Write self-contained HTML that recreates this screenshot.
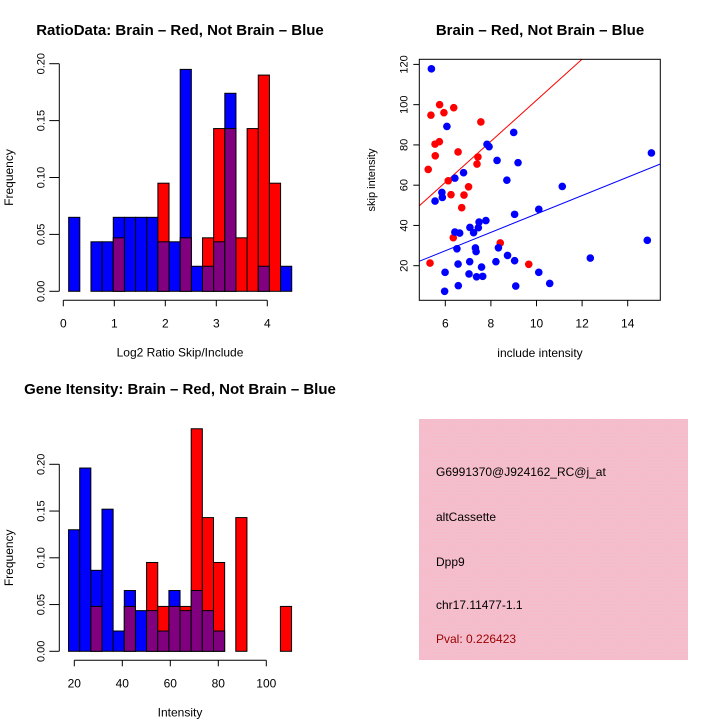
<!DOCTYPE html>
<html><head><meta charset="utf-8"><style>
html,body{margin:0;padding:0;background:#fff}
svg{display:block;font-family:"Liberation Sans",sans-serif}
</style></head><body>
<svg id="fig" width="720" height="720" viewBox="0 0 720 720" xmlns="http://www.w3.org/2000/svg">
<defs>
<pattern id="hatch" width="3" height="3" patternUnits="userSpaceOnUse">
<rect width="3" height="3" fill="#f6bccb"/><rect width="1" height="1" fill="#e8c8d0"/>
</pattern>
</defs>
<g id="p1"></g>
<g id="p2"></g>
<g id="p3"></g>
<g>
<rect x="419" y="419" width="269" height="241" fill="url(#hatch)"/>
<g font-size="12" fill="#000">
<text x="436" y="476">G6991370@J924162_RC@j_at</text>
<text x="436" y="521">altCassette</text>
<text x="436" y="566">Dpp9</text>
<text x="436" y="609">chr17.11477-1.1</text>
<text x="436" y="643" fill="#9b0000">Pval: 0.226423</text>
</g>
</g>
</svg>
<script>
// Ratio histogram data
const ratioBinStart = 0.105;
const ratioBinWidth = 0.2187;
const ratioBlue = [0.065,0,0.0435,0.0435,0.065,0.065,0.065,0.065,0.0435,0.0435,0.195,0.022,0.022,0.0435,0.174,0,0,0.022,0,0.022];
const ratioRed  = [0,0,0,0,0.047,0,0,0,0.095,0,0.047,0,0.047,0.143,0.143,0.047,0.143,0.19,0.095,0];
const ratioXTicks = [0,1,2,3,4];
const freqTicks = ["0.00","0.05","0.10","0.15","0.20"];
// Intensity histogram data
const intBinStart = 17.6;
const intBinWidth = 4.646;
const intBlue = [0.130,0.196,0.0866,0.152,0.0217,0.065,0.0435,0.0435,0.0217,0.065,0.0435,0.065,0.0435,0.0217,0,0,0,0,0,0];
const intRed  = [0,0,0.048,0,0,0.048,0,0.095,0.048,0.048,0.048,0.238,0.143,0.095,0,0.143,0,0,0,0.048];
const intXTicks = [20,40,60,80,100];
// Scatter data
const redX = [5.25,5.37,5.75,5.94,6.37,7.56,5.55,5.74,5.56,6.56,7.43,7.39,6.13,6.25,6.82,7.02,6.72,6.35,8.41,5.33,9.66];
const redY = [67.8,94.8,100,96,98.5,91.4,80.4,81.6,74.6,76.5,74,70.5,62.2,55.3,55.1,59.2,48.8,33.9,31.3,21.3,20.7];
const blueX = [5.39,6.07,7.83,7.92,9.0,8.27,9.19,6.8,6.42,8.7,11.13,15.04,5.85,5.87,5.55,9.04,10.1,14.86,12.36,7.78,7.48,7.45,7.08,7.24,6.42,6.63,6.51,8.33,7.32,7.35,8.73,7.07,8.22,9.04,6.56,5.99,10.1,7.59,7.04,7.37,7.64,10.58,5.97,6.57,9.09];
const blueY = [117.8,89.2,80.3,79.1,86.2,72.3,71.2,66.2,63.5,62.5,59.4,76,56.4,53.9,52.1,45.5,48,32.6,23.8,42.4,41.7,38.9,39,36.4,36.7,36.2,28.4,28.9,28.8,27,25.1,22,22,22.5,20.8,16.7,16.7,19.3,15.9,14.5,14.7,11.2,7.3,10.1,9.9];
const redFit = [0.2,10.2];
const blueFit = [0.0,4.57];
const scatXTicks = [6,8,10,12,14];
const scatYTicks = [20,40,60,80,100,120];

const NS="http://www.w3.org/2000/svg";
function mk(parent,tag,attrs,text){const e=document.createElementNS(NS,tag);for(const k in attrs)e.setAttribute(k,attrs[k]);if(text!==undefined)e.textContent=text;parent.appendChild(e);return e;}

function hist(g,o){
  const sx=v=>o.x0+(v-o.xv0)*o.xs, sy=v=>o.y0-v*o.ys;
  for(let i=0;i<o.blue.length;i++){
    const a=o.start+i*o.width,b=a+o.width;
    const bl=o.blue[i],rd=o.red[i];
    const mx=Math.max(bl,rd),mn=Math.min(bl,rd);
    if(mx>0){
      const r=mk(g,'rect',{x:sx(a),y:sy(mx),width:sx(b)-sx(a),height:sy(0)-sy(mx),fill:bl>=rd?'#0000ff':'#ff0000',stroke:'#000','stroke-width':1});
      
      
    }
    if(mn>0){
      const r=mk(g,'rect',{x:sx(a),y:sy(mn),width:sx(b)-sx(a),height:sy(0)-sy(mn),fill:'#800080',stroke:'#000','stroke-width':1});
      
      
    }
  }
  const ya=mk(g,'g',{});
  
  
  mk(ya,'line',{x1:o.yAxisX,x2:o.yAxisX,y1:sy(0),y2:sy(0.2),stroke:'#000'});
  freqTicks.forEach(t=>{const y=sy(parseFloat(t));mk(ya,'line',{x1:o.yAxisX-10,x2:o.yAxisX,y1:y,y2:y,stroke:'#000'});
    const tx=mk(ya,'text',{x:0,y:0,transform:`translate(${o.yAxisX-15},${y}) rotate(-90)`,'text-anchor':'middle','font-size':11},t);
    
    });
  const xa=mk(g,'g',{});
  
  
  mk(xa,'line',{x1:sx(o.xt[0]),x2:sx(o.xt[o.xt.length-1]),y1:o.xAxisY,y2:o.xAxisY,stroke:'#000'});
  o.xt.forEach(t=>{const x=sx(t);mk(xa,'line',{x1:x,x2:x,y1:o.xAxisY,y2:o.xAxisY+6,stroke:'#000'});
    const tx=mk(xa,'text',{x:x,y:o.xAxisY+27,'text-anchor':'middle','font-size':12},String(t));
    
    });
  const t=mk(g,'text',{x:o.titleX,y:o.titleY,'text-anchor':'middle','font-size':15,'font-weight':'bold'},o.title);
  
  
  const xl=mk(g,'text',{x:180,y:o.xAxisY+56,'text-anchor':'middle','font-size':12},o.xlab);
  
  
  const yl=mk(g,'text',{x:0,y:0,transform:`translate(13,${(sy(0)+sy(0.2))/2}) rotate(-90)`,'text-anchor':'middle','font-size':12},'Frequency');
  
  
}

hist(document.getElementById('p1'),{blue:ratioBlue,red:ratioRed,start:ratioBinStart,width:ratioBinWidth,
  x0:63.3,xv0:0,xs:51,y0:291.3,ys:1138,yAxisX:59.3,xAxisY:300.3,xt:ratioXTicks,
  title:'RatioData: Brain – Red, Not Brain – Blue',titleX:180,titleY:35,xlab:'Log2 Ratio Skip/Include'});
hist(document.getElementById('p3'),{blue:intBlue,red:intRed,start:intBinStart,width:intBinWidth,
  x0:74.3,xv0:20,xs:2.4,y0:651.3,ys:935,yAxisX:59.3,xAxisY:660.3,xt:intXTicks,
  title:'Gene Itensity: Brain – Red, Not Brain – Blue',titleX:180,titleY:394,xlab:'Intensity'});

(function(){
  const g=document.getElementById('p2');
  const L=419.3,R=660.3,T=59.3,B=300.3;
  const sx=v=>445.3+(v-6)*22.8, sy=v=>265.7-(v-20)*2.013;
  const cp=mk(document.querySelector('defs'),'clipPath',{id:'sc'});
  mk(cp,'rect',{x:L,y:T,width:R-L,height:B-T});
  const fits=[[redFit,'#ff0000','red-fit-line'],[blueFit,'#0000ff','blue-fit-line']];
  fits.forEach(([f,c,n])=>{const x1=4,x2=16;
    const l=mk(g,'line',{x1:sx(x1),y1:sy(f[0]+f[1]*x1),x2:sx(x2),y2:sy(f[0]+f[1]*x2),stroke:c,'stroke-width':1,'clip-path':'url(#sc)'});
    
    });
  redX.forEach((x,i)=>{const c=mk(g,'circle',{cx:sx(x),cy:sy(redY[i]),r:3.8,fill:'#ff0000'});
    
    });
  blueX.forEach((x,i)=>{const c=mk(g,'circle',{cx:sx(x),cy:sy(blueY[i]),r:3.8,fill:'#0000ff'});
    
    });
  const box=mk(g,'rect',{x:L,y:T,width:R-L,height:B-T,fill:'none',stroke:'#000','stroke-width':1});
  
  
  scatXTicks.forEach(t=>{const x=sx(t);mk(g,'line',{x1:x,x2:x,y1:B,y2:B+6,stroke:'#000'});
    const tx=mk(g,'text',{x:x,y:B+27,'text-anchor':'middle','font-size':12},String(t));
    
    });
  scatYTicks.forEach(t=>{const y=sy(t);mk(g,'line',{x1:L-6,x2:L,y1:y,y2:y,stroke:'#000'});
    const tx=mk(g,'text',{x:0,y:0,transform:`translate(${L-12},${y}) rotate(-90)`,'text-anchor':'middle','font-size':11},String(t));
    
    });
  const t=mk(g,'text',{x:540,y:35,'text-anchor':'middle','font-size':15,'font-weight':'bold'},'Brain – Red, Not Brain – Blue');
  
  
  const xl=mk(g,'text',{x:540,y:357,'text-anchor':'middle','font-size':12},'include intensity');
  
  
  const yl=mk(g,'text',{x:0,y:0,transform:'translate(375,180) rotate(-90)','text-anchor':'middle','font-size':11},'skip intensity');
  
  
})();
</script>
</body></html>
